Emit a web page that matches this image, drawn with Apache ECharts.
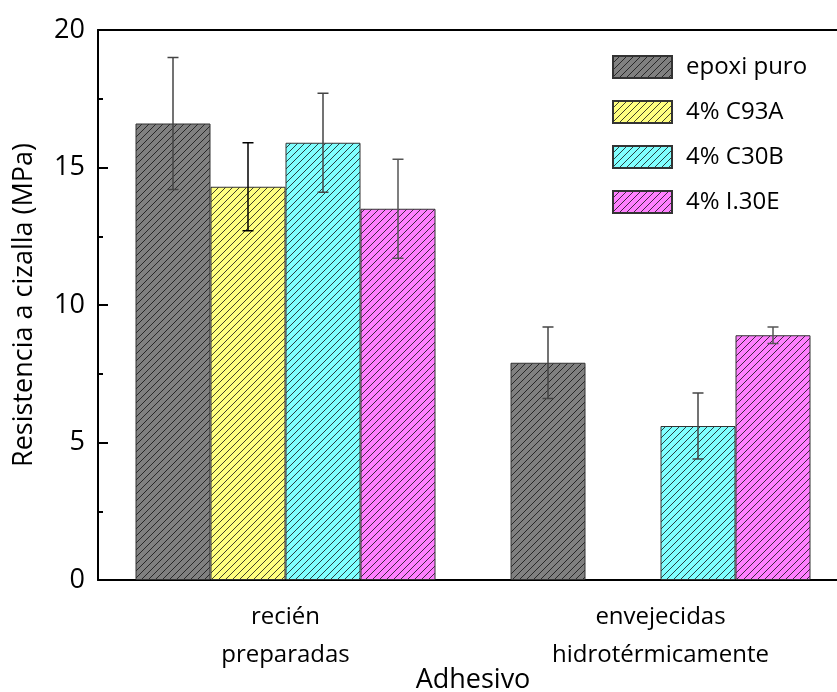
<!DOCTYPE html>
<html>
<head>
<meta charset="utf-8">
<script src="https://cdn.jsdelivr.net/npm/echarts@6/dist/echarts.min.js"></script>
<style>
  html, body { margin: 0; padding: 0; background: #fff; }
  #chart { width: 837px; height: 692px; }
</style>
</head>
<body>
<div id="chart"></div>
<script>
// Adhesive shear strength, fresh vs. hydrothermally aged joints
const categories = ['recién\npreparadas', 'envejecidas\nhidrotérmicamente'];
const seriesNames = ['epoxi puro', '4% C93A', '4% C30B', '4% I.30E'];

const epoxiPuro = [16.6, 7.9];
const c93a = [14.3, null];
const c30b = [15.9, 5.6];
const i30e = [13.5, 8.9];

const errEpoxiPuro = [2.4, 1.3];
const errC93a = [1.6, null];
const errC30b = [1.8, 1.2];
const errI30e = [1.8, 0.3];

const yTicks = [0, 5, 10, 15, 20];

const values = [epoxiPuro, c93a, c30b, i30e];
const errors = [errEpoxiPuro, errC93a, errC30b, errI30e];
const fills = ['#808080', '#ffff80', '#80ffff', '#ff80ff'];
const errColors = ['#444', '#000', '#444', '#555'];

const FONT = 'Open Sans';

// Diagonal "/" hatch tile drawn over a flat fill
function hatch(fill) {
  const s = 7;
  const c = document.createElement('canvas');
  c.width = s; c.height = s;
  const g = c.getContext('2d');
  g.fillStyle = fill;
  g.fillRect(0, 0, s, s);
  g.strokeStyle = '#111';
  g.lineWidth = 0.8;
  g.beginPath();
  for (const x0 of [-s, 0, s]) {
    g.moveTo(x0, s);
    g.lineTo(x0 + s, 0);
  }
  g.stroke();
  return { image: c, repeat: 'repeat' };
}

const barSeries = seriesNames.map((name, i) => ({
  name,
  type: 'bar',
  data: values[i],
  barGap: '0%',
  barCategoryGap: '20%',
  itemStyle: {
    color: hatch(fills[i]),
    borderColor: '#333',
    borderWidth: 1
  },
  z: 2
}));

const errSeries = seriesNames.map((name, i) => ({
  type: 'custom',
  name: name + ' err',
  data: categories.map((c, k) => [k, values[i][k], errors[i][k]]),
  z: 5,
  silent: true,
  renderItem(params, api) {
    const v = api.value(1);
    const e = api.value(2);
    if (v == null || isNaN(v) || e == null || isNaN(e)) return;
    const ci = api.value(0);
    const bw = api.size([1, 0])[0] * 0.2;
    const xc = api.coord([ci, 0])[0] + (i - 1.5) * bw;
    const yTop = api.coord([ci, v + e])[1];
    const yBot = api.coord([ci, v - e])[1];
    const cap = 5.5;
    const style = { stroke: errColors[i], lineWidth: 1.5 };
    return {
      type: 'group',
      children: [
        { type: 'line', shape: { x1: xc, y1: yTop, x2: xc, y2: yBot }, style },
        { type: 'line', shape: { x1: xc - cap, y1: yTop, x2: xc + cap, y2: yTop }, style },
        { type: 'line', shape: { x1: xc - cap, y1: yBot, x2: xc + cap, y2: yBot }, style }
      ]
    };
  }
}));

const chart = echarts.init(document.getElementById('chart'), null, { renderer: 'canvas' });

chart.setOption({
  animation: false,
  backgroundColor: '#fff',
  textStyle: { fontFamily: FONT },
  grid: { left: 98, top: 30, bottom: 112, right: -11, containLabel: false, outerBoundsMode: 'none' },
  legend: {
    data: seriesNames,
    left: 612,
    top: 55,
    padding: 0,
    orient: 'vertical',
    itemWidth: 59,
    itemHeight: 22,
    itemGap: 21,
    icon: 'rect',
    selectedMode: false,
    textStyle: { fontFamily: FONT, fontSize: 24, color: '#000', padding: [0, 0, 0, 9] }
  },
  xAxis: [
    {
      type: 'category',
      data: categories,
      position: 'bottom',
      name: 'Adhesivo',
      nameLocation: 'middle',
      nameGap: 87,
      nameMoveOverlap: false,
      nameTextStyle: { fontFamily: FONT, fontSize: 27, color: '#000' },
      axisLine: { lineStyle: { color: '#000', width: 2 } },
      axisTick: { inside: true, length: 6, lineStyle: { color: '#000', width: 1.5 } },
      axisLabel: { fontFamily: FONT, fontSize: 24, color: '#000', margin: 18, lineHeight: 38 },
      splitLine: { show: false }
    },
    {
      type: 'category',
      data: categories,
      position: 'top',
      axisLine: { lineStyle: { color: '#000', width: 2 } },
      axisTick: { inside: true, alignWithLabel: true, length: 5, lineStyle: { color: '#000', width: 1 } },
      axisLabel: { show: false },
      splitLine: { show: false }
    }
  ],
  yAxis: {
    type: 'value',
    min: yTicks[0],
    max: yTicks[yTicks.length - 1],
    interval: 5,
    name: 'Resistencia a cizalla (MPa)',
    nameLocation: 'middle',
    nameGap: 60,
    nameMoveOverlap: false,
    nameTextStyle: { fontFamily: FONT, fontSize: 27, color: '#000' },
    axisLine: { show: true, lineStyle: { color: '#000', width: 2 } },
    axisTick: { show: true, inside: true, length: 10, lineStyle: { color: '#000', width: 2 } },
    minorTick: { show: true, splitNumber: 2, length: 5, lineStyle: { color: '#000', width: 2 } },
    axisLabel: { fontFamily: FONT, fontSize: 27, color: '#000', margin: 13 },
    splitLine: { show: false },
    minorSplitLine: { show: false }
  },
  series: [...barSeries, ...errSeries]
});
</script>
</body>
</html>
